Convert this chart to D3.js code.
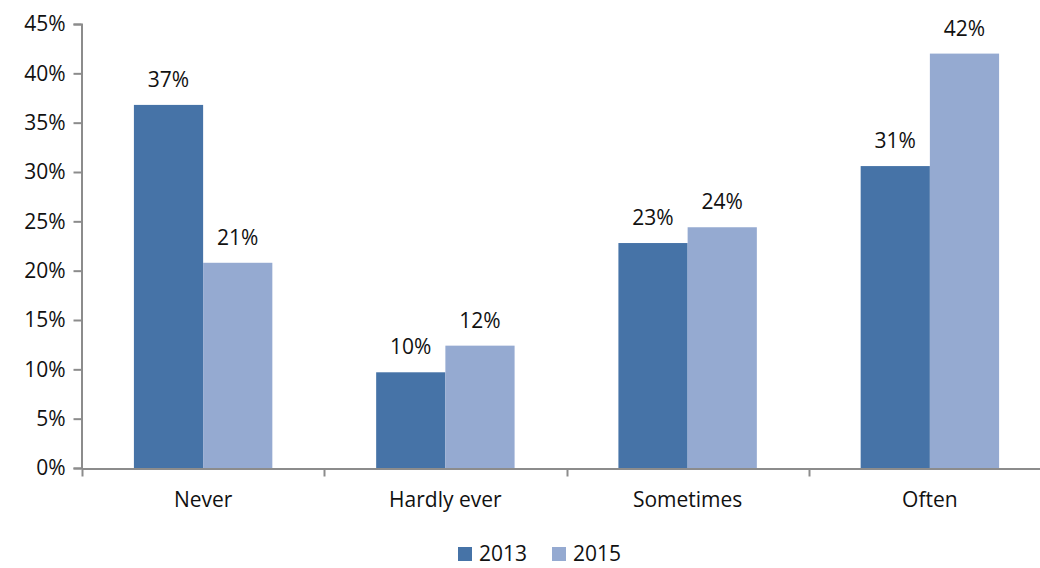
<!DOCTYPE html>
<html>
<head>
<meta charset="UTF-8">
<script src="https://d3js.org/d3.v7.min.js"></script>
<style>
  body { margin: 0; background: #fff; }
  text { font-family: "Open Sans", "Noto Sans", sans-serif; fill: #111; }
</style>
</head>
<body>
<svg id="chart" width="1040" height="568"></svg>
<script>
  // Data
  const categories = [ "Never", "Hardly ever", "Sometimes", "Often" ];
  const years = [ "2013", "2015" ];
  const values2013 = [ 36.8, 9.7, 22.8, 30.6 ];
  const values2015 = [ 20.8, 12.4, 24.4, 42.0 ];
  const yTicks = [ 0, 5, 10, 15, 20, 25, 30, 35, 40, 45 ];
  const colors = [ "#4673a7", "#95aad1" ];

  const series = [ values2013, values2015 ];
  const fontSize = "21px";

  const svg = d3.select( "#chart" );

  // Scales
  const x = d3.scaleBand()
    .domain( categories )
    .range( [ 82, 1051 ] );

  const x1 = d3.scaleBand()
    .domain( years )
    .range( [ 0, x.bandwidth() ] )
    .paddingOuter( 0.75 );

  const y = d3.scaleLinear()
    .domain( [ 0, 45 ] )
    .range( [ 468, 24 ] );

  // Y axis
  const yAxis = svg.append( "g" )
    .attr( "transform", "translate(81.5,0)" )
    .call( d3.axisLeft( y ).tickValues( yTicks ).tickSize( 8 ).tickPadding( 8 ).tickFormat( d => d + "%" ) );
  yAxis.selectAll( "text" ).style( "font-size", fontSize ).attr( "fill", "#111" );

  // X axis
  const xAxis = svg.append( "g" )
    .attr( "transform", "translate(0,468.5)" )
    .call( d3.axisBottom( x ).tickSize( 0 ).tickPadding( 24 ) );
  xAxis.selectAll( "text" ).style( "font-size", fontSize ).attr( "fill", "#111" );

  // category boundary ticks
  xAxis.selectAll( ".sep" )
    .data( categories )
    .enter().append( "line" )
    .attr( "class", "sep" )
    .attr( "x1", d => Math.round( x( d ) ) + 0.5 )
    .attr( "x2", d => Math.round( x( d ) ) + 0.5 )
    .attr( "y1", 0 )
    .attr( "y2", 8 );

  svg.selectAll( ".domain, .tick line, .sep" )
    .attr( "stroke", "#8c8c8c" )
    .attr( "stroke-width", 2 );

  // Bars
  years.forEach( ( yr, i ) => {
    const g = svg.append( "g" );
    g.selectAll( "rect" )
      .data( series[ i ] )
      .enter().append( "rect" )
      .attr( "x", ( d, j ) => x( categories[ j ] ) + x1( yr ) )
      .attr( "y", d => y( d ) )
      .attr( "width", x1.bandwidth() )
      .attr( "height", d => y( 0 ) - y( d ) )
      .attr( "fill", colors[ i ] );

    g.selectAll( "text" )
      .data( series[ i ] )
      .enter().append( "text" )
      .attr( "x", ( d, j ) => x( categories[ j ] ) + x1( yr ) + x1.bandwidth() / 2 )
      .attr( "y", d => y( d ) - 18 )
      .attr( "text-anchor", "middle" )
      .style( "font-size", fontSize )
      .text( d => Math.round( d ) + "%" );
  } );

  // Legend
  const legend = svg.append( "g" );
  const legendX = [ 458, 552 ];
  years.forEach( ( yr, i ) => {
    legend.append( "rect" )
      .attr( "x", legendX[ i ] )
      .attr( "y", 547 )
      .attr( "width", 14 )
      .attr( "height", 14 )
      .attr( "fill", colors[ i ] );
    legend.append( "text" )
      .attr( "x", legendX[ i ] + 21 )
      .attr( "y", 561 )
      .style( "font-size", fontSize )
      .text( yr );
  } );
</script>
</body>
</html>
